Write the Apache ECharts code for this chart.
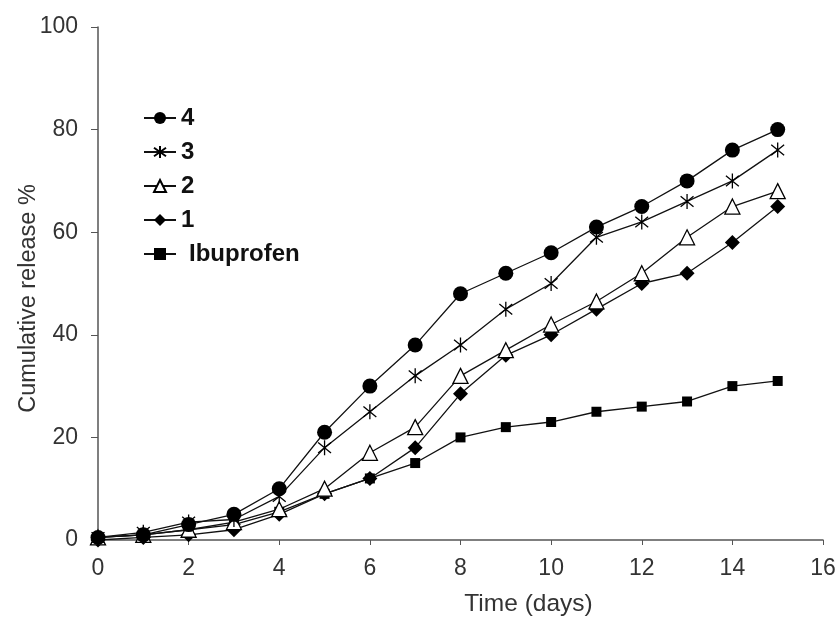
<!DOCTYPE html>
<html>
<head>
<meta charset="utf-8">
<script src="https://cdn.jsdelivr.net/npm/echarts@6/dist/echarts.min.js"></script>
<style>
  html, body { margin: 0; padding: 0; background: #fff; }
  #chart { width: 839px; height: 619px; }
</style>
</head>
<body>
<div id="chart"></div>
<script>
// 天数
var days = [0, 1, 2, 3, 4, 5, 6, 7, 8, 9, 10, 11, 12, 13, 14, 15];
// 各组累计释放 %
var s4 = [0.5, 1, 3, 5, 10, 21, 30, 38, 48, 52, 56, 61, 65, 70, 76, 80];
var s3 = [0.5, 1.5, 3.5, 4, 8.5, 18, 25, 32, 38, 45, 50, 59, 62, 66, 70, 76];
var s2 = [0.5, 1, 2, 3.5, 6, 10, 17, 22, 32, 37, 42, 46.5, 52, 59, 65, 68];
var s1 = [0, 0.5, 1, 2, 5, 9, 12, 18, 28.5, 36, 40, 45, 50, 52, 58, 65];
var ibu = [0.5, 1, 2, 3, 5.5, 9, 12, 15, 20, 22, 23, 25, 26, 27, 30, 31];

var myChart = echarts.init(document.getElementById('chart'));

function pairs(arr) {
  return days.map(function (d, i) { return [d, arr[i]]; });
}

// 星号标记
var asterisk = 'path://M5,0 L5,10 M0.7,1.5 L9.3,8.5 M9.3,1.5 L0.7,8.5';

function mk(name, data, symbol, size, fill) {
  return {
    name: name,
    type: 'line',
    data: pairs(data),
    symbol: symbol,
    symbolSize: size,
    symbolKeepAspect: true,
    showAllSymbol: true,
    lineStyle: { color: '#111', width: 1.3 },
    itemStyle: { color: fill, borderColor: '#000', borderWidth: fill === '#fff' || symbol === asterisk ? 1.3 : 0 },
    emphasis: { disabled: true },
    animation: false
  };
}

var option = {
  backgroundColor: '#fff',
  grid: { left: 98, right: 16, top: 27, bottom: 79, outerBoundsMode: 'none' },
  legend: {
    orient: 'vertical',
    left: 143,
    top: 106,
    padding: 0,
    itemWidth: 32,
    itemHeight: 15,
    itemGap: 10,
    data: ['4', '3', '2', '1', { name: 'Ibuprofen', textStyle: { padding: [0, 0, 0, 8] } }],
    textStyle: { fontSize: 24, fontWeight: 'bold', color: '#111', fontFamily: 'Liberation Sans' }
  },
  xAxis: {
    type: 'value',
    min: 0,
    max: 16,
    interval: 2,
    name: 'Time (days)',
    nameLocation: 'middle',
    nameGap: 52,
    nameMoveOverlap: false,
    nameTextStyle: { fontSize: 24.5, color: '#333', fontFamily: 'Liberation Sans', padding: [0, 0, 0, 136] },
    splitLine: { show: false },
    axisLine: { lineStyle: { color: '#555', width: 1.5 } },
    axisTick: { length: 5, lineStyle: { color: '#555' } },
    axisLabel: { fontSize: 23, color: '#333', margin: 17, fontFamily: 'Liberation Sans' }
  },
  yAxis: {
    type: 'value',
    min: 0,
    max: 100,
    interval: 20,
    name: 'Cumulative release %',
    nameLocation: 'middle',
    nameGap: 57,
    nameMoveOverlap: false,
    nameTextStyle: { fontSize: 23.5, color: '#333', fontFamily: 'Liberation Sans', padding: [0, 30, 0, 0] },
    splitLine: { show: false },
    axisLine: { show: true, lineStyle: { color: '#555', width: 1.5 } },
    axisTick: { show: true, length: 7, lineStyle: { color: '#555' } },
    axisLabel: { fontSize: 23, color: '#333', margin: 20, fontFamily: 'Liberation Sans' }
  },
  series: [
    mk('Ibuprofen', ibu, 'rect', 10, '#000'),
    mk('1', s1, 'diamond', 15, '#000'),
    mk('2', s2, 'triangle', 15, '#fff'),
    mk('3', s3, asterisk, 15, '#000'),
    mk('4', s4, 'circle', 15, '#000')
  ]
};

myChart.setOption(option);
</script>
</body>
</html>
